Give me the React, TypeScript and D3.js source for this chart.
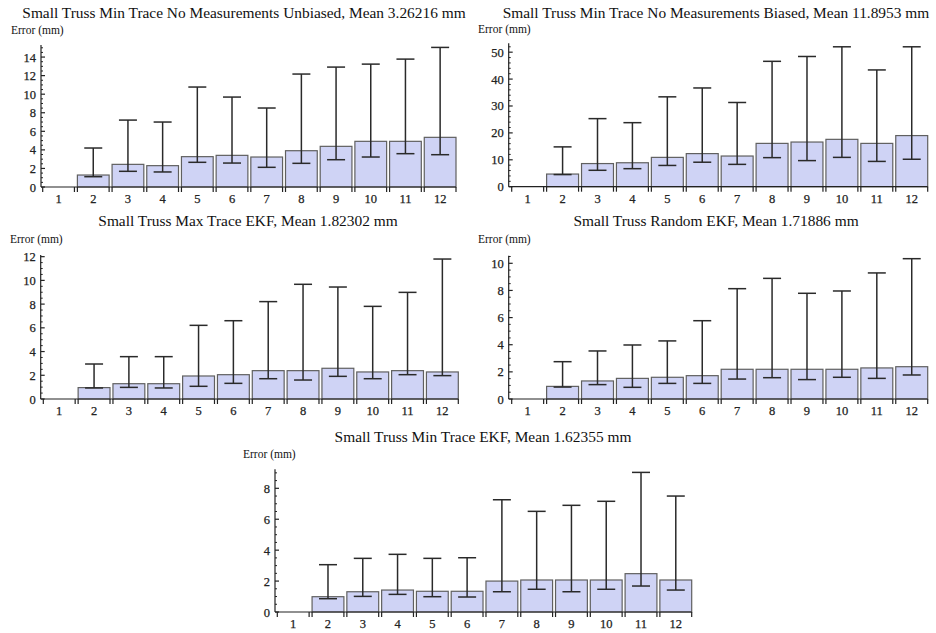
import React from "react";
import * as d3 from "d3";

const categories = ["1","2","3","4","5","6","7","8","9","10","11","12"];

// Panel 1: Min Trace No Measurements Unbiased
const p1Mean = [0, 1.29, 2.44, 2.30, 3.27, 3.41, 3.23, 3.91, 4.38, 4.92, 4.92, 5.35];
const p1Low  = [0, 1.11, 1.69, 1.62, 2.66, 2.58, 2.12, 2.55, 2.94, 3.23, 3.59, 3.48];
const p1High = [0, 4.20, 7.21, 7.00, 10.77, 9.69, 8.51, 12.17, 12.92, 13.24, 13.78, 15.04];

// Panel 2: Min Trace No Measurements Biased
const p2Mean = [0, 4.7, 8.6, 8.9, 10.9, 12.3, 11.4, 16.1, 16.6, 17.6, 16.1, 19.0];
const p2Low  = [0, 4.5, 6.1, 6.7, 7.9, 9.1, 8.3, 10.8, 9.7, 10.9, 9.4, 10.2];
const p2High = [0, 14.8, 25.3, 23.8, 33.4, 36.7, 31.3, 46.6, 48.4, 52.0, 43.4, 52.0];

// Panel 3: Max Trace EKF
const p3Mean = [0, 0.96, 1.29, 1.29, 1.94, 2.05, 2.39, 2.39, 2.59, 2.28, 2.39, 2.28];
const p3Low  = [0, 0.93, 0.98, 0.93, 1.07, 1.32, 1.71, 1.60, 1.91, 1.71, 2.05, 1.97];
const p3High = [0, 2.95, 3.57, 3.57, 6.21, 6.60, 8.21, 9.67, 9.44, 7.81, 8.99, 11.8];

// Panel 4: Random EKF
const p4Mean = [0, 0.93, 1.33, 1.52, 1.60, 1.72, 2.19, 2.19, 2.19, 2.19, 2.29, 2.38];
const p4Low  = [0, 0.88, 1.06, 0.86, 1.15, 1.15, 1.47, 1.57, 1.43, 1.60, 1.52, 1.77];
const p4High = [0, 2.75, 3.54, 3.98, 4.28, 5.77, 8.13, 8.89, 7.79, 7.96, 9.29, 10.34];

// Panel 5: Min Trace EKF
const p5Mean = [0, 0.99, 1.31, 1.42, 1.34, 1.34, 2.00, 2.07, 2.07, 2.07, 2.48, 2.07];
const p5Low  = [0, 0.86, 1.01, 1.14, 0.99, 0.97, 1.31, 1.47, 1.31, 1.47, 1.68, 1.42];
const p5High = [0, 3.06, 3.47, 3.73, 3.47, 3.51, 7.26, 6.51, 6.90, 7.16, 9.03, 7.50];

const titles = [
  "Small Truss Min Trace No Measurements Unbiased, Mean 3.26216 mm",
  "Small Truss Min Trace No Measurements Biased, Mean 11.8953 mm",
  "Small Truss Max Trace EKF, Mean 1.82302 mm",
  "Small Truss Random EKF, Mean 1.71886 mm",
  "Small Truss Min Trace EKF, Mean 1.62355 mm",
];
const yMajorTicks = [
  [0, 2, 4, 6, 8, 10, 12, 14],
  [0, 10, 20, 30, 40, 50],
  [0, 2, 4, 6, 8, 10, 12],
  [0, 2, 4, 6, 8, 10],
  [0, 2, 4, 6, 8],
];
const yMinorStep = [0.5, 2, 0.5, 0.5, 0.5];
const yMax = [15.3, 53.3, 12.14, 10.56, 9.23];
const yAxisLabel = "Error (mm)";

const series = [
  { mean: p1Mean, low: p1Low, high: p1High },
  { mean: p2Mean, low: p2Low, high: p2High },
  { mean: p3Mean, low: p3Low, high: p3High },
  { mean: p4Mean, low: p4Low, high: p4High },
  { mean: p5Mean, low: p5Low, high: p5High },
];

// layout (pixel geometry)
const layout = [
  { axisX: 41, zeroY: 187, topY: 45, bandStart: 42.7, bandEnd: 456, titleX: 244, titleY: 18, labelX: 11, labelY: 34 },
  { axisX: 508.7, zeroY: 186.7, topY: 43.3, bandStart: 511.7, bandEnd: 927.7, titleX: 716, titleY: 18, labelX: 478, labelY: 33 },
  { axisX: 40.7, zeroY: 399, topY: 255, bandStart: 43.3, bandEnd: 458.3, titleX: 248, titleY: 226, labelX: 10, labelY: 243 },
  { axisX: 508.7, zeroY: 399, topY: 255.7, bandStart: 511.7, bandEnd: 927.7, titleX: 716, titleY: 226, labelX: 478, labelY: 243 },
  { axisX: 275, zeroY: 612, topY: 469.3, bandStart: 277.3, bandEnd: 691.7, titleX: 483, titleY: 442, labelX: 243, labelY: 458 },
];

const FONT = "'Liberation Serif', 'DejaVu Serif', serif";
const BAR_FILL = "#cfd3f5";
const BAR_STROKE = "#606060";
const ERR_STROKE = "#2a2a2a";

function Panel({ i }: { i: number }) {
  const L = layout[i];
  const s = series[i];
  const y = d3.scaleLinear().domain([0, yMax[i]]).range([L.zeroY, L.topY]);
  const x = d3.scaleBand<string>().domain(categories).range([L.bandStart, L.bandEnd]).paddingInner(0.085).paddingOuter(0);
  const bw = x.bandwidth();
  const minor = d3.range(0, yMax[i] + 1e-9, yMinorStep[i]).filter(v => !yMajorTicks[i].some(m => Math.abs(m - v) < 1e-9));
  const capW = 18;
  return (
    <g>
      <text x={L.titleX} y={L.titleY} textAnchor="middle" fontFamily={FONT} fontSize={15.4} fill="#111">{titles[i]}</text>
      <text x={L.labelX} y={L.labelY} fontFamily={FONT} fontSize={11.5} fill="#111">{yAxisLabel}</text>
      {/* bars */}
      {categories.map((c, k) => s.mean[k] > 0 ? (
        <rect key={"b" + c} x={x(c)} y={y(s.mean[k])} width={bw} height={y(0) - y(s.mean[k])}
          fill={BAR_FILL} stroke={BAR_STROKE} strokeWidth={1.2} />
      ) : null)}
      {/* error bars */}
      {categories.map((c, k) => s.mean[k] > 0 ? (
        <g key={"e" + c} stroke={ERR_STROKE} strokeWidth={1.5}>
          <line x1={x(c)! + bw / 2} x2={x(c)! + bw / 2} y1={y(s.low[k])} y2={y(s.high[k])} />
          <line x1={x(c)! + bw / 2 - capW / 2} x2={x(c)! + bw / 2 + capW / 2} y1={y(s.high[k])} y2={y(s.high[k])} />
          <line x1={x(c)! + bw / 2 - capW / 2} x2={x(c)! + bw / 2 + capW / 2} y1={y(s.low[k])} y2={y(s.low[k])} />
        </g>
      ) : null)}
      {/* y axis */}
      <line x1={L.axisX} x2={L.axisX} y1={L.zeroY} y2={L.topY} stroke="#222" strokeWidth={1.2} />
      {yMajorTicks[i].map(v => (
        <g key={"ym" + v}>
          <line x1={L.axisX} x2={L.axisX + 4} y1={y(v)} y2={y(v)} stroke="#222" strokeWidth={1.2} />
          <text x={L.axisX - 5} y={y(v) + 4.5} textAnchor="end" fontFamily={FONT} fontSize={12.5} fill="#222" stroke="#222" strokeWidth={0.25}>{v}</text>
        </g>
      ))}
      {minor.map(v => (
        <line key={"yn" + v} x1={L.axisX} x2={L.axisX + 2} y1={y(v)} y2={y(v)} stroke="#222" strokeWidth={1} />
      ))}
      {/* x axis */}
      <line x1={L.axisX} x2={L.bandEnd} y1={L.zeroY} y2={L.zeroY} stroke="#222" strokeWidth={1.2} />
      {categories.map(c => (
        <g key={"xt" + c}>
          <line x1={x(c)} x2={x(c)} y1={L.zeroY} y2={L.zeroY + 5} stroke="#222" strokeWidth={1.2} />
          <line x1={x(c)! + bw} x2={x(c)! + bw} y1={L.zeroY} y2={L.zeroY + 5} stroke="#222" strokeWidth={1.2} />
          <text x={x(c)! + bw / 2} y={L.zeroY + 16} textAnchor="middle" fontFamily={FONT} fontSize={12.5} fill="#222" stroke="#222" strokeWidth={0.25}>{c}</text>
        </g>
      ))}
    </g>
  );
}

export default function App() {
  return (
    <svg width={936} height={633} style={{ position: "absolute", left: 0, top: 0, background: "#fff" }}>
      <rect width={936} height={633} fill="#fff" />
      {layout.map((_, i) => <Panel key={i} i={i} />)}
    </svg>
  );
}
